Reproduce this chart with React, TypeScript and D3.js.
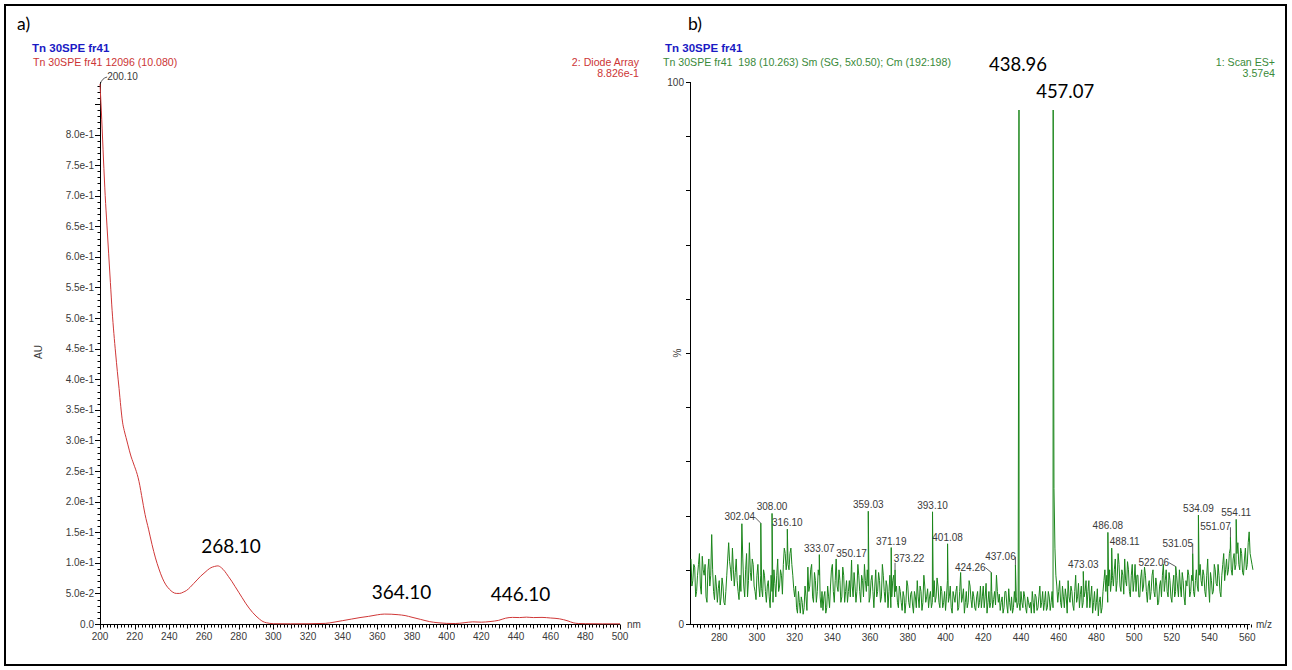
import React from "react";
import * as d3 from "d3";

// ---------- a) UV trace (diode array) ----------
const uvNm = [
  200, 201, 202, 203, 204, 205, 206, 207, 208, 209, 210, 211, 212, 213, 214, 215, 216, 217, 218, 219,
  220, 221, 222, 223, 224, 225, 226, 228, 230, 232, 234, 236, 238, 240, 242, 244, 246, 248, 250, 252,
  254, 256, 258, 260, 262, 264, 266, 268, 270, 272, 274, 276, 278, 280, 282, 284, 286, 288, 290, 292,
  294, 296, 298, 300, 310, 320, 330, 335, 340, 345, 350, 355, 360, 364, 368, 372, 376, 380, 385, 390,
  395, 400, 405, 410, 415, 420, 425, 430, 434, 438, 442, 446, 450, 455, 460, 465, 470, 473, 476, 480,
  490, 500,
];
const uvAu = [
  0.8826, 0.825, 0.76, 0.7, 0.652, 0.605, 0.558, 0.512, 0.475, 0.443, 0.413, 0.385, 0.355, 0.33, 0.316, 0.305, 0.294, 0.283, 0.273, 0.265,
  0.257, 0.249, 0.239, 0.226, 0.21, 0.194, 0.179, 0.155, 0.13, 0.108, 0.09, 0.075, 0.064, 0.057, 0.052, 0.05, 0.05, 0.052, 0.055, 0.06,
  0.066, 0.072, 0.078, 0.083, 0.088, 0.092, 0.094, 0.095, 0.092, 0.086, 0.078, 0.07, 0.061, 0.052, 0.043, 0.034, 0.026, 0.019, 0.013, 0.008,
  0.004, 0.002, 0.001, 0.0005, 0.0003, 0.0004, 0.001, 0.003, 0.0055, 0.008, 0.0105, 0.0125, 0.015, 0.0162, 0.016, 0.0152, 0.0138, 0.011, 0.0075, 0.004,
  0.002, 0.001, 0.0008, 0.002, 0.0035, 0.003, 0.004, 0.006, 0.0095, 0.0108, 0.0105, 0.0112, 0.0105, 0.0108, 0.0098, 0.0085, 0.005, 0.002, 0.0008, 0.0005,
  0.0003, 0.0003,
];
const uvPeakNm = [268.1, 364.1, 446.1];
const uvPeakAu = [0.095, 0.0162, 0.0112];
const uvPeakLabels = ["268.10", "364.10", "446.10"];
const uvTopLabel = "200.10";

const uvYTickValues = [0, 0.05, 0.1, 0.15, 0.2, 0.25, 0.3, 0.35, 0.4, 0.45, 0.5, 0.55, 0.6, 0.65, 0.7, 0.75, 0.8];
const uvYTickLabels = [
  "0.0", "5.0e-2", "1.0e-1", "1.5e-1", "2.0e-1", "2.5e-1", "3.0e-1", "3.5e-1", "4.0e-1",
  "4.5e-1", "5.0e-1", "5.5e-1", "6.0e-1", "6.5e-1", "7.0e-1", "7.5e-1", "8.0e-1",
];
const uvXTickValues = [200, 220, 240, 260, 280, 300, 320, 340, 360, 380, 400, 420, 440, 460, 480, 500];
const uvXTickLabels = uvXTickValues.map(String);

// ---------- b) mass spectrum (ES+) ----------
// background trace: readings on whole m/z values from 265 ...
const msNoiseStartMz = 265;
const msNoise = [
  12, 8, 10.5, 6, 11, 7, 12.5, 9, 5, 10,
  7, 16.5, 6, 9, 4, 8, 5, 7, 3.5, 9,
  15, 10, 14, 7, 12, 6, 9, 18.5, 7, 10,
  5, 15, 8, 11, 6, 9, 7, 9, 5, 9,
  4, 8, 3, 6, 10, 5, 12, 7, 9, 11,
  13, 12, 10, 14, 9, 5, 3, 6, 2, 4,
  3, 5, 10.5, 7, 11, 4, 8, 6, 9, 3,
  2.5, 6, 3, 5, 7, 11, 4, 12, 6, 8,
  5, 9, 6, 4, 8, 10, 5, 7, 6, 9,
  4, 8, 11, 6, 7, 5, 9, 3, 10, 6,
  8, 5, 9, 4, 7, 6, 3, 8, 5, 7,
  3, 6, 2.5, 5, 4, 7, 3, 6, 2, 5,
  8, 3, 6, 4, 7, 5, 3, 6, 4, 8,
  5, 7, 3, 6, 4, 2.5, 8, 5, 3, 6,
  4, 7, 3, 9.5, 5, 2, 6, 4, 7, 3,
  5, 2.5, 6, 4, 3, 7, 5, 2, 6, 4,
  3, 6, 9, 4, 2.5, 5, 3, 6, 2, 4,
  5, 3, 4, 3, 4, 6, 3, 5, 2, 4,
  4, 6, 2, 5, 3, 7, 4, 2.5, 6, 3,
  5, 4, 3, 14, 7, 6, 4, 7, 3, 5,
  8, 4, 6, 2.5, 9, 5, 3, 7, 4, 6,
  3, 8, 5, 2, 6, 4, 1.5, 5, 3, 8,
  6, 4, 10, 8, 7, 12, 8, 11, 6, 9,
  12, 7, 10, 5, 11, 8, 6, 9, 5, 10,
  7, 9, 4, 8, 6, 10, 5, 7, 4, 8,
  9, 6, 10, 5, 8, 4, 9, 6, 7, 10,
  5, 8, 3.5, 7, 9, 6, 8, 5, 10, 6,
  11, 7, 9, 5, 12, 4, 8, 6, 10, 7,
  9, 5, 11, 8, 12, 10, 14, 9, 13, 11,
  15, 10, 13, 9, 14, 11, 17, 12, 10,
];
// ... and on the half values from 265.5
const msNoiseHalfStartMz = 265.5;
const msNoiseHalf = [
  7, 11, 5, 9, 13, 5.5, 10, 11, 4, 12,
  9, 10, 4.5, 7, 6.5, 3.5, 8.5, 4, 6, 12,
  11.5, 8, 10, 9.5, 8, 4.5, 6, 12, 5, 13,
  8, 9.5, 12, 7, 4.5, 11, 5, 6.5, 10, 6,
  7, 5, 9, 4, 7.5, 9, 6, 10, 5.5, 14,
  10, 11, 13, 11, 6.5, 7, 2, 4, 5, 1.8,
  7, 2.5, 6, 10, 5, 9.5, 4, 10, 5, 6,
  5, 2, 7, 3, 10, 6, 8, 7, 10, 4,
  10.5, 4, 8, 6, 5, 7, 9.5, 4, 11, 6,
  9, 5, 8, 10, 4, 8, 6, 7, 5, 9.5,
  4, 11, 6, 8, 3, 9, 5, 9, 6, 4,
  7, 4, 6, 2, 8, 4, 5.5, 3.5, 6, 3,
  5, 7, 2.5, 9, 4, 6.5, 5, 3, 5, 4,
  8.5, 4, 7, 3, 6, 5, 4, 7, 2, 5,
  6, 2.5, 6, 4, 6.5, 4, 3, 8, 4.5, 6,
  3, 5, 3, 7, 5, 3, 7.5, 4, 3, 6,
  4.5, 3.5, 6, 5.5, 4, 2, 6, 3.5, 6.5, 2.5,
  2, 6, 5, 4, 2.5, 4, 6, 3, 5, 3,
  2, 4, 5.5, 2.5, 5, 3, 6, 4, 2.5, 6,
  2.5, 6, 25, 9, 4, 8, 3, 5, 6.5, 2,
  5, 7, 3.5, 6, 4, 7.5, 5.5, 3, 5, 8,
  6, 3, 7, 4, 2.5, 6.5, 4, 2, 6, 10,
  9, 7, 6, 9, 10, 6, 13, 7, 10, 5.5,
  8, 11.5, 6, 9, 6, 11, 9, 5, 8.5, 6,
  10.5, 6, 7, 4.5, 9, 6, 8.5, 3.5, 7, 5,
  11, 8, 6, 9.5, 5, 7, 5, 9, 5, 7,
  9.5, 5, 8, 10, 5, 9, 6, 8, 7, 9,
  8, 10, 6, 9, 7, 9.5, 5.5, 11, 7.5, 11,
  6, 9, 13, 10, 9, 13, 10, 12, 10, 13,
  11, 14, 9.5, 12, 10, 15, 13, 11,
];
const msPeakMz = [
  302.04, 308.0, 316.1, 333.07, 350.17, 359.03, 371.19, 373.22, 393.1, 401.08,
  424.26, 437.06, 473.03, 486.08, 488.11, 522.06, 531.05, 534.09, 551.07, 554.11,
];
const msPeakPct = [
  18.6, 20.4, 17.5, 12.8, 11.8, 20.8, 14.1, 10.0, 20.7, 14.8,
  9.5, 10.9, 9.7, 16.9, 14.0, 10.6, 13.0, 20.1, 16.0, 19.3,
];
const msPeakLabels = [
  "302.04", "308.00", "316.10", "333.07", "350.17", "359.03", "371.19", "373.22", "393.10", "401.08",
  "424.26", "437.06", "473.03", "486.08", "488.11", "522.06", "531.05", "534.09", "551.07", "554.11",
];
const msMainMz = [438.96, 457.07];
const msMainPct = [100, 97];
const msMainLabels = ["438.96", "457.07"];

const msYTickValues = [0, 10, 20, 30, 40, 50, 60, 70, 80, 90, 100];
const msXTickValues = [280, 300, 320, 340, 360, 380, 400, 420, 440, 460, 480, 500, 520, 540, 560];
const msXTickLabels = msXTickValues.map(String);

// label placement: horizontal shift from the peak, baseline above the tip, leader line
const msLabelLayout: [number, number, boolean][] = [
  [-21, 3, true], [0, 3, false], [0, 3, false], [0, 3, false], [0, 3, false],
  [0, 3, false], [0, 3, false], [14, 8, true], [0, 3, false], [0, 3, false],
  [-21, 2, true], [-15, 5, true], [0, 3, false], [0, 3, false], [13, 3, false],
  [-22, 1, true], [-15, 7, true], [0, 3, false], [-15, 7, true], [0, 3, false],
];
const uvLabelLayout: [number, number][] = [[13, 13], [17, 15], [-6, 16]];

const SANS = "'Liberation Sans', Arial, sans-serif";
const BIG = "Lato, 'Open Sans', sans-serif";
const TXT = "#3a3a3a";

export default function App() {
  const xUv = d3.scaleLinear().domain([200, 500]).range([100, 620]);
  const yUv = d3.scaleLinear().domain([0, 0.8826]).range([624, 84]);
  const xMs = d3.scaleLinear().domain([264.5, 562.5]).range([690, 1252]);
  const yMs = d3.scaleLinear().domain([0, 100]).range([624, 82]);

  const uvPoints: [number, number][] = uvNm.map((n, i) => [n, uvAu[i]]);
  const uvPath = d3
    .line<[number, number]>()
    .x((d) => xUv(d[0]))
    .y((d) => yUv(d[1]))
    .curve(d3.curveMonotoneX)(uvPoints) as string;

  const msPoints: [number, number][] = msNoise.map((v, i) => [msNoiseStartMz + i, v]);
  msNoiseHalf.forEach((v, i) => msPoints.push([msNoiseHalfStartMz + i, v]));
  msPeakMz.forEach((m, i) => msPoints.push([m, msPeakPct[i]]));
  msMainMz.forEach((m, i) => msPoints.push([m, msMainPct[i]]));
  msPoints.sort((a, b) => a[0] - b[0]);
  const msPath = d3
    .line<[number, number]>()
    .x((d) => xMs(d[0]))
    .y((d) => yMs(d[1]))(msPoints) as string;

  const uvMinorX = d3.range(200, 501, 2);
  const uvMinorY = d3.range(0, 0.881, 0.01);
  const msMinorX = d3.range(266, 563, 2);

  return (
    <svg
      width={1292}
      height={670}
      viewBox="0 0 1292 670"
      style={{ position: "absolute", left: 0, top: 0, display: "block", background: "#fff" }}
    >
      <rect x={0} y={0} width={1292} height={670} fill="#fff" />
      <rect x={5} y={5} width={1281} height={660} fill="none" stroke="#000" strokeWidth={2} />

      {/* ----- panel a ----- */}
      <text x={17} y={30} fontFamily={BIG} fontSize={17.5} fill="#000">a)</text>
      <text x={32} y={52} fontFamily={SANS} fontSize={11.5} fontWeight="bold" fill="#1a1ac4">Tn 30SPE fr41</text>
      <text x={33} y={66} fontFamily={SANS} fontSize={10.6} fill="#cc3535">Tn 30SPE fr41 12096 (10.080)</text>
      <text x={639} y={66} fontFamily={SANS} fontSize={10.6} fill="#cc3535" textAnchor="end">2: Diode Array</text>
      <text x={639} y={77} fontFamily={SANS} fontSize={10.6} fill="#cc3535" textAnchor="end">8.826e-1</text>

      <g stroke="#000" strokeWidth={1}>
        <line x1={100.5} y1={82} x2={100.5} y2={624.5} />
        <line x1={100} y1={624.5} x2={620} y2={624.5} />
        {uvMinorY.map((v, i) => (
          <line key={"uy" + i} x1={100} x2={i % 5 === 0 ? 95 : 97.5} y1={Math.round(yUv(v)) + 0.5} y2={Math.round(yUv(v)) + 0.5} />
        ))}
        {uvMinorX.map((v, i) => (
          <line key={"ux" + i} x1={Math.round(xUv(v)) + 0.5} x2={Math.round(xUv(v)) + 0.5} y1={624.5} y2={i % 10 === 0 ? 629.5 : i % 5 === 0 ? 628.5 : 627.5} />
        ))}
      </g>
      {uvYTickValues.map((v, i) => (
        <text key={"uyl" + i} x={94} y={yUv(v) + 3.5} fontFamily={SANS} fontSize={10} fill={TXT} textAnchor="end">
          {uvYTickLabels[i]}
        </text>
      ))}
      {uvXTickValues.map((v, i) => (
        <text key={"uxl" + i} x={xUv(v)} y={640} fontFamily={SANS} fontSize={10} fill={TXT} textAnchor="middle">
          {uvXTickLabels[i]}
        </text>
      ))}
      <text x={627} y={628} fontFamily={SANS} fontSize={10} fill={TXT}>nm</text>
      <text transform="translate(42,352) rotate(-90)" fontFamily={SANS} fontSize={10} fill={TXT} textAnchor="middle">AU</text>

      <path d={uvPath} fill="none" stroke="#d03838" strokeWidth={1} />
      <path d={`M${xUv(200.1)},${yUv(0.8826)} Q${xUv(200.1) + 2},${yUv(0.8826) - 6} ${xUv(200.1) + 7},${yUv(0.8826) - 7}`} fill="none" stroke="#333" strokeWidth={0.8} />
      <text x={xUv(200.1) + 7} y={80} fontFamily={SANS} fontSize={10} fill={TXT}>{uvTopLabel}</text>
      {uvPeakNm.map((n, i) => (
        <text key={"uvp" + i} x={xUv(n) + uvLabelLayout[i][0]} y={yUv(uvPeakAu[i]) - uvLabelLayout[i][1]} fontFamily={BIG} fontSize={19} fill="#000" textAnchor="middle">
          {uvPeakLabels[i]}
        </text>
      ))}

      {/* ----- panel b ----- */}
      <text x={688} y={30} fontFamily={BIG} fontSize={17.5} fill="#000">b)</text>
      <text x={665} y={52} fontFamily={SANS} fontSize={11.5} fontWeight="bold" fill="#1a1ac4">Tn 30SPE fr41</text>
      <text x={663} y={66} fontFamily={SANS} fontSize={10.6} fill="#3a8a3a" style={{ whiteSpace: "pre" }}>
        {"Tn 30SPE fr41  198 (10.263) Sm (SG, 5x0.50); Cm (192:198)"}
      </text>
      <text x={1275} y={66} fontFamily={SANS} fontSize={10.6} fill="#3a8a3a" textAnchor="end">1: Scan ES+</text>
      <text x={1275} y={77} fontFamily={SANS} fontSize={10.6} fill="#3a8a3a" textAnchor="end">3.57e4</text>

      <g stroke="#000" strokeWidth={1}>
        <line x1={690.5} y1={82} x2={690.5} y2={624.5} />
        <line x1={690} y1={624.5} x2={1250} y2={624.5} />
        {msYTickValues.map((v, i) => (
          <line key={"my" + i} x1={690} x2={686} y1={Math.round(yMs(v)) + 0.5} y2={Math.round(yMs(v)) + 0.5} />
        ))}
        {msMinorX.map((v, i) => (
          <line key={"mx" + i} x1={Math.round(xMs(v)) + 0.5} x2={Math.round(xMs(v)) + 0.5} y1={624.5} y2={(v - 280) % 20 === 0 ? 629.5 : (v - 280) % 10 === 0 ? 628.5 : 627.5} />
        ))}
      </g>
      <text x={684} y={yMs(100) + 3.5} fontFamily={SANS} fontSize={10} fill={TXT} textAnchor="end">100</text>
      <text x={684} y={yMs(0) + 3.5} fontFamily={SANS} fontSize={10} fill={TXT} textAnchor="end">0</text>
      <text transform={`translate(681,${yMs(50)}) rotate(-90)`} fontFamily={SANS} fontSize={10} fill={TXT} textAnchor="middle">%</text>
      {msXTickValues.map((v, i) => (
        <text key={"mxl" + i} x={xMs(v)} y={641} fontFamily={SANS} fontSize={10} fill={TXT} textAnchor="middle">
          {msXTickLabels[i]}
        </text>
      ))}
      <text x={1256} y={628} fontFamily={SANS} fontSize={10} fill={TXT}>m/z</text>

      <path d={msPath} fill="none" stroke="#1b861b" strokeWidth={1} strokeLinejoin="round" />

      {msPeakMz.map((m, i) => {
        const [dx, dy, leader] = msLabelLayout[i];
        const px = xMs(m);
        const py = yMs(msPeakPct[i]);
        const lx = px + dx;
        const ly = py - dy;
        return (
          <g key={"mpl" + i}>
            {leader && (
              <line
                x1={dx < 0 ? lx + 15 : lx - 14}
                y1={dx < 0 ? ly - 3 : ly + 1}
                x2={px}
                y2={py}
                stroke="#333"
                strokeWidth={0.8}
              />
            )}
            <text x={lx} y={ly} fontFamily={SANS} fontSize={10} fill={TXT} textAnchor="middle">
              {msPeakLabels[i]}
            </text>
          </g>
        );
      })}

      {/* main ions, labels on white boxes */}
      <rect x={xMs(msMainMz[0]) - 34} y={50} width={68} height={32} fill="#fff" />
      <rect x={xMs(msMainMz[0]) - 8} y={yMs(100)} width={90} height={28} fill="#fff" />
      <text x={xMs(msMainMz[0]) - 1} y={71} fontFamily={BIG} fontSize={18.5} fill="#000" textAnchor="middle">{msMainLabels[0]}</text>
      <text x={xMs(msMainMz[1]) + 12} y={98} fontFamily={BIG} fontSize={18.5} fill="#000" textAnchor="middle">{msMainLabels[1]}</text>
    </svg>
  );
}
